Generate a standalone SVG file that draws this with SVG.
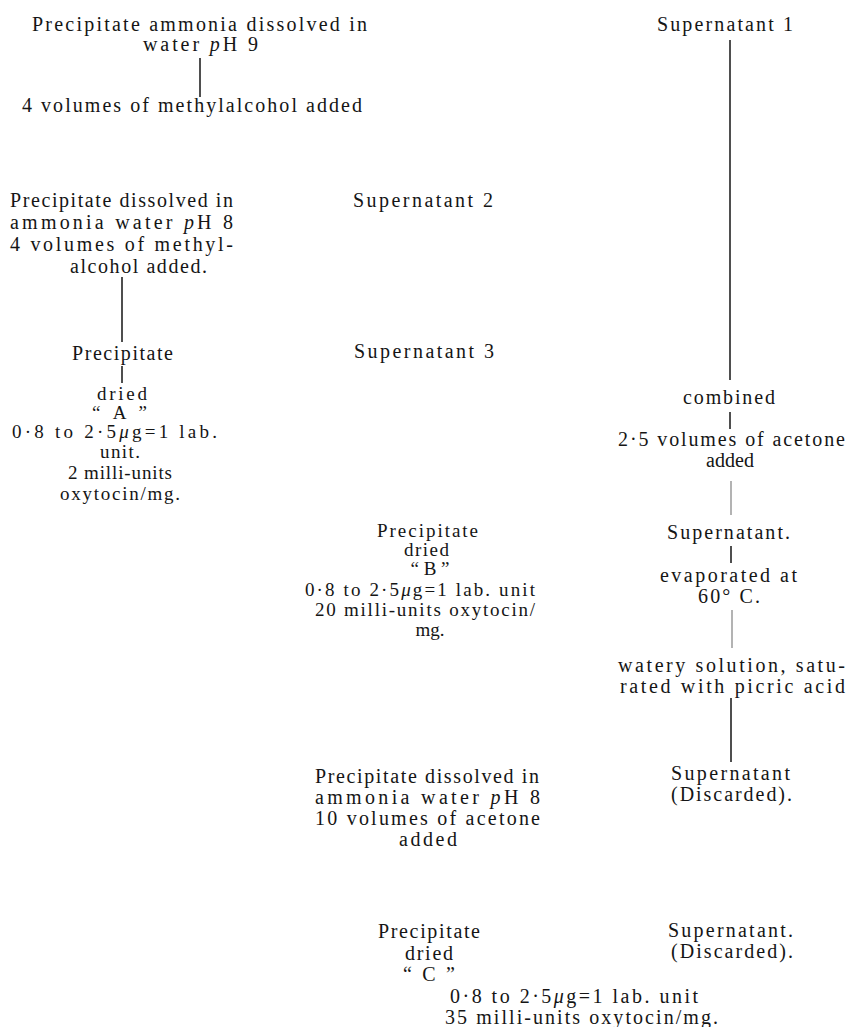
<svg xmlns="http://www.w3.org/2000/svg" width="846" height="1027" viewBox="0 0 846 1027">
<style>
text{font-family:"Liberation Serif","Times New Roman",serif;font-size:20px;fill:#151515}
.s{font-size:19px}
.c{text-anchor:middle}
.ln{stroke:#151515;stroke-width:1.5;fill:none}
.fa{stroke:#9a9a9a;stroke-width:1.5;fill:none}
</style>
<rect width="846" height="1027" fill="#ffffff"/>
<g id="connectors">
<line class="ln" x1="200" y1="58" x2="200" y2="97"/>
<line class="ln" x1="730" y1="40" x2="730" y2="380"/>
<line class="ln" x1="122" y1="277" x2="122" y2="342"/>
<line class="ln" x1="122" y1="366" x2="122" y2="383"/>
<line class="ln" x1="730" y1="412" x2="730" y2="429"/>
<line class="fa" x1="731" y1="481" x2="731" y2="515"/>
<line class="ln" x1="731" y1="546" x2="731" y2="563"/>
<line class="fa" x1="732" y1="610" x2="732" y2="648"/>
<line class="ln" x1="731" y1="698" x2="731" y2="762"/>
</g>
<g id="n-precip-ammonia">
<text x="32" y="31" textLength="335" lengthAdjust="spacing">Precipitate ammonia dissolved in</text>
<text x="143" y="51" textLength="115" lengthAdjust="spacing">water <tspan font-style="italic">p</tspan>H 9</text>
</g>
<g id="n-methanol">
<text x="22" y="112" textLength="340" lengthAdjust="spacing">4 volumes of methylalcohol added</text>
</g>
<g id="n-supernatant1">
<text x="657" y="31" textLength="136" lengthAdjust="spacing">Supernatant 1</text>
</g>
<g id="n-precip-dissolved">
<text x="10" y="207" textLength="223" lengthAdjust="spacing">Precipitate dissolved in</text>
<text x="10" y="229" textLength="223" lengthAdjust="spacing">ammonia water <tspan font-style="italic">p</tspan>H 8</text>
<text x="10" y="251" textLength="223" lengthAdjust="spacing">4 volumes of methyl-</text>
<text x="70" y="273" textLength="137" lengthAdjust="spacing">alcohol added.</text>
</g>
<g id="n-supernatant2">
<text x="353" y="207" textLength="140" lengthAdjust="spacing">Supernatant 2</text>
</g>
<g id="n-supernatant3">
<text x="354" y="358" textLength="140" lengthAdjust="spacing">Supernatant 3</text>
</g>
<g id="n-precipitate-a">
<text x="72" y="360" textLength="101" lengthAdjust="spacing">Precipitate</text>
</g>
<g id="n-product-a" class="s">
<text class="s" x="97" y="400" textLength="50" lengthAdjust="spacing">dried</text>
<text class="s" x="92" y="419" textLength="55" lengthAdjust="spacing">“ A ”</text>
<text class="s" x="12" y="438" textLength="205" lengthAdjust="spacing">0·8 to 2·5<tspan font-style="italic">μ</tspan>g=1 lab.</text>
<text class="s" x="100" y="458" textLength="40" lengthAdjust="spacing">unit.</text>
<text class="s" x="68" y="479" textLength="104" lengthAdjust="spacing">2 milli-units</text>
<text class="s" x="60" y="500" textLength="120" lengthAdjust="spacing">oxytocin/mg.</text>
</g>
<g id="n-combined">
<text x="683" y="404" textLength="92" lengthAdjust="spacing">combined</text>
</g>
<g id="n-acetone">
<text x="618" y="446" textLength="227" lengthAdjust="spacing">2·5 volumes of acetone</text>
<text x="706" y="467" textLength="48" lengthAdjust="spacing">added</text>
</g>
<g id="n-supernatant-evap">
<text x="667" y="539" textLength="123" lengthAdjust="spacing">Supernatant.</text>
</g>
<g id="n-evaporated">
<text x="660" y="582" textLength="137" lengthAdjust="spacing">evaporated at</text>
<text x="698" y="603" textLength="62" lengthAdjust="spacing">60° C.</text>
</g>
<g id="n-picric">
<text x="618" y="672" textLength="227" lengthAdjust="spacing">watery solution, satu-</text>
<text x="620" y="693" textLength="225" lengthAdjust="spacing">rated with picric acid</text>
</g>
<g id="n-discarded1">
<text x="671" y="780" textLength="119" lengthAdjust="spacing">Supernatant</text>
<text x="671" y="801" textLength="121" lengthAdjust="spacing">(Discarded).</text>
</g>
<g id="n-product-b">
<text class="s" x="377" y="537" textLength="101" lengthAdjust="spacing">Precipitate</text>
<text class="s" x="404" y="556" textLength="45" lengthAdjust="spacing">dried</text>
<text class="s c" x="430" y="575">“ B ”</text>
<text class="s" x="305" y="596" textLength="230" lengthAdjust="spacing">0·8 to 2·5<tspan font-style="italic">μ</tspan>g=1 lab. unit</text>
<text class="s" x="315" y="616" textLength="220" lengthAdjust="spacing">20 milli-units oxytocin/</text>
<text class="s c" x="430" y="636">mg.</text>
</g>
<g id="n-precip-acetone">
<text x="315" y="783" textLength="224" lengthAdjust="spacing">Precipitate dissolved in</text>
<text x="315" y="804" textLength="225" lengthAdjust="spacing">ammonia water <tspan font-style="italic">p</tspan>H 8</text>
<text x="315" y="825" textLength="225" lengthAdjust="spacing">10 volumes of acetone</text>
<text x="399" y="846" textLength="58" lengthAdjust="spacing">added</text>
</g>
<g id="n-product-c">
<text x="378" y="938" textLength="102" lengthAdjust="spacing">Precipitate</text>
<text x="405" y="960" textLength="48" lengthAdjust="spacing">dried</text>
<text x="403" y="981" textLength="52" lengthAdjust="spacing">“ C ”</text>
<text x="450" y="1003" textLength="248" lengthAdjust="spacing">0·8 to 2·5<tspan font-style="italic">μ</tspan>g=1 lab. unit</text>
<text x="445" y="1024" textLength="273" lengthAdjust="spacing">35 milli-units oxytocin/mg.</text>
</g>
<g id="n-discarded2">
<text x="668" y="937" textLength="125" lengthAdjust="spacing">Supernatant.</text>
<text x="671" y="958" textLength="122" lengthAdjust="spacing">(Discarded).</text>
</g>
</svg>
